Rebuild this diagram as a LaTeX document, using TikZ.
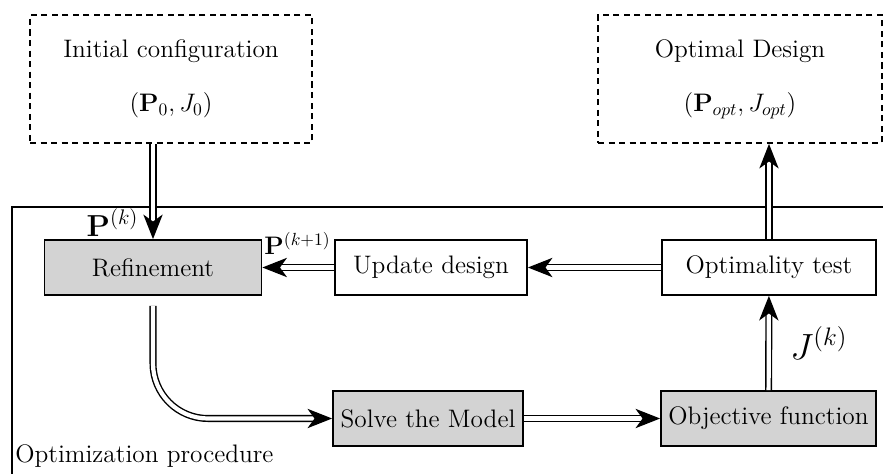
\documentclass[tikz,border=0pt]{standalone}
\usetikzlibrary{arrows.meta}
\definecolor{BoxGray}{HTML}{D3D3D3}

\begin{document}
\begin{tikzpicture}[>=Stealth,
    every node/.style={font=\Large},
    dashbox/.style={draw, line width=1pt, dash pattern=on 3.5pt off 2.5pt, minimum height=2.56cm, align=center},
    stepbox/.style={draw, line width=1pt, minimum height=1.1cm},
    grayfill/.style={fill=BoxGray},
    dblarrow/.style={double, line width=0.8pt, double distance=2.4pt, -{Stealth[length=14pt, width=11pt, inset=4pt]}}]

    \useasboundingbox (0,0) rectangle (17.66,9.46);

    % ========== Outside: start and result ==========
    \node[dashbox, minimum width=5.64cm] (init) at (3.42,7.88)
        {Initial configuration\\[13pt]$(\mathbf{P}_0, J_0)$};
    \node[dashbox, minimum width=5.68cm] (optimal) at (14.8,7.88)
        {Optimal Design\\[13pt]$(\mathbf{P}_{opt}, J_{opt})$};

    % ========== Frame of the loop ==========
    \draw[line width=1pt] (17.8,5.32) -- (0.24,5.32) -- (0.24,-0.2);
    \node[anchor=base west, inner sep=0pt] (frame) at (0.3,0.22) {Optimization procedure};

    % ========== Loop boxes ==========
    \node[stepbox, grayfill, minimum width=4.34cm] (refine) at (3.06,4.11) {Refinement};
    \node[stepbox, minimum width=3.84cm] (update) at (8.62,4.11) {Update design};
    \node[stepbox, minimum width=4.28cm] (opttest) at (15.38,4.11) {Optimality test};
    \node[stepbox, grayfill, minimum width=3.8cm] (solve) at (8.56,1.09) {Solve the Model};
    \node[stepbox, grayfill, minimum width=4.3cm] (objective) at (15.37,1.09) {Objective function};

    % ========== Arrows ==========
    \draw[dblarrow] (init.south -| refine.north) -- (refine.north);
    \node[anchor=south east, inner sep=1pt, font=\LARGE] (pk) at ([xshift=-0.25cm, yshift=0.02cm]refine.north) {$\mathbf{P}^{(k)}$};

    \draw[dblarrow] (update) -- (refine);
    \node[anchor=west, inner sep=1pt] (pk1) at ([yshift=-0.08cm]refine.north east) {$\mathbf{P}^{(k+1)}$};

    \draw[dblarrow] (opttest) -- (update);
    \draw[dblarrow, rounded corners=1.1cm] ([yshift=-0.2cm]refine.south) |- (solve.west);
    \draw[dblarrow] (solve) -- (objective);
    \draw[dblarrow] (objective) -- node[right=0.3cm, font=\huge] (jk) {$J^{(k)}$} (opttest);
    \draw[dblarrow] (opttest.north) -- (opttest.north |- optimal.south);

\end{tikzpicture}
\end{document}
